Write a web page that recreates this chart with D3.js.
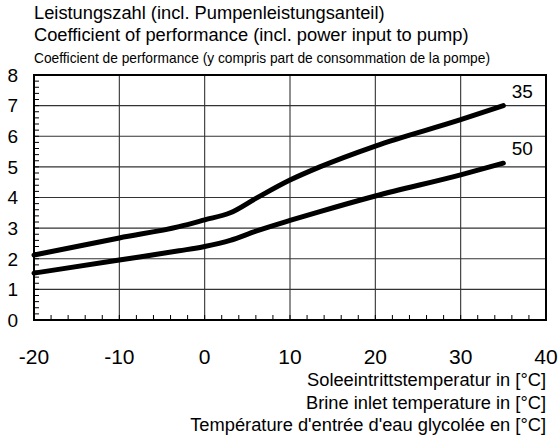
<!DOCTYPE html>
<html>
<head>
<meta charset="utf-8">
<script src="https://cdn.jsdelivr.net/npm/d3@7"></script>
<style>
  body { margin: 0; background: #fff; }
  svg text { font-family: "Liberation Sans", Arial, sans-serif; fill: #000; }
</style>
</head>
<body>
<div id="chart"></div>
<script>
// brine inlet temperature (°C) and COP
const temps35 = [-20, -10, -3, 0, 3, 6, 10, 13.5, 20, 30, 35];
const cop35   = [2.12, 2.68, 3.05, 3.27, 3.5, 3.97, 4.57, 5.0, 5.68, 6.54, 7.0];
const temps50 = [-20, -10, -3, 0, 3, 6, 10, 13.5, 20, 30, 35];
const cop50   = [1.53, 1.96, 2.26, 2.4, 2.6, 2.9, 3.25, 3.54, 4.05, 4.74, 5.12];
const seriesNames = ["35", "50"];
const xTicks = [-20, -10, 0, 10, 20, 30, 40];
const yTicks = [0, 1, 2, 3, 4, 5, 6, 7, 8];
const titleLines = [
    "Leistungszahl (incl. Pumpenleistungsanteil)",
    "Coefficient of performance (incl. power input to pump)",
    "Coefficient de performance (y compris part de consommation de la pompe)"
];
const xTitleLines = [
    "Soleeintrittstemperatur in [°C]",
    "Brine inlet temperature in [°C]",
    "Température d'entrée d'eau glycolée en [°C]"
];

const width = 560, height = 436;
const pLeft = 34, pRight = 546, pTop = 75, pBottom = 320;

let svg = d3.select("#chart").append("svg").attr("width", width).attr("height", height);

let x = d3.scaleLinear().domain([-20, 40]).range([pLeft, pRight]);
let y = d3.scaleLinear().domain([0, 8]).range([pBottom, pTop]);

// gridlines
let grid = svg.append("g").attr("stroke", "#333").attr("stroke-width", 1.1);
grid.selectAll("line.v").data(xTicks.slice(1, -1)).enter().append("line")
    .attr("x1", d => x(d)).attr("x2", d => x(d)).attr("y1", pTop).attr("y2", pBottom);
grid.selectAll("line.h").data(yTicks.slice(1, -1)).enter().append("line")
    .attr("x1", pLeft).attr("x2", pRight).attr("y1", d => y(d)).attr("y2", d => y(d));

// minor ticks, inward
let minor = svg.append("g").attr("stroke", "#000").attr("stroke-width", 1);
minor.selectAll("line.mx").data(d3.range(-18, 40, 2)).enter().append("line")
    .attr("x1", d => x(d)).attr("x2", d => x(d)).attr("y1", pBottom).attr("y2", pBottom - 5);
minor.selectAll("line.my").data(d3.range(0.2, 8, 0.2)).enter().append("line")
    .attr("x1", pLeft).attr("x2", pLeft + 5).attr("y1", d => y(d)).attr("y2", d => y(d));

// frame
svg.append("rect").attr("x", pLeft).attr("y", pTop).attr("width", pRight - pLeft).attr("height", pBottom - pTop)
    .attr("fill", "none").attr("stroke", "#000").attr("stroke-width", 2);

// curves
let line = d3.line().x(d => x(d[0])).y(d => y(d[1])).curve(d3.curveMonotoneX);
let series = [d3.zip(temps35, cop35), d3.zip(temps50, cop50)];
svg.append("g").selectAll("path").data(series).enter().append("path")
    .attr("d", line).attr("fill", "none").attr("stroke", "#000")
    .attr("stroke-width", 5).attr("stroke-linecap", "round").attr("stroke-linejoin", "round");

// series labels
svg.append("g").selectAll("text").data(series).enter().append("text")
    .attr("x", d => x(d[d.length - 1][0]) + 19)
    .attr("y", d => y(d[d.length - 1][1]) - 8)
    .attr("text-anchor", "middle").attr("font-size", 19)
    .text((d, i) => seriesNames[i]);

// y tick labels
svg.append("g").selectAll("text").data(yTicks).enter().append("text")
    .attr("x", 18).attr("y", d => y(d)).attr("dy", "0.36em")
    .attr("text-anchor", "end").attr("font-size", 19)
    .text(d => d);

// x tick labels
svg.append("g").selectAll("text").data(xTicks).enter().append("text")
    .attr("x", d => x(d)).attr("y", 364)
    .attr("text-anchor", "middle").attr("font-size", 21)
    .text(d => d);

// titles
let titleY = [19, 41, 63];
svg.append("g").selectAll("text").data(titleLines).enter().append("text")
    .attr("x", pLeft).attr("y", (d, i) => titleY[i])
    .attr("font-size", (d, i) => i < 2 ? 18.3 : 15)
    .each(function(d, i) {
        if (i == 2) d3.select(this).attr("textLength", 456).attr("lengthAdjust", "spacingAndGlyphs");
    })
    .text(d => d);

svg.append("g").selectAll("text").data(xTitleLines).enter().append("text")
    .attr("x", pRight).attr("y", (d, i) => 386 + i * 22.5)
    .attr("text-anchor", "end").attr("font-size", 18.3)
    .text(d => d);
</script>
</body>
</html>
